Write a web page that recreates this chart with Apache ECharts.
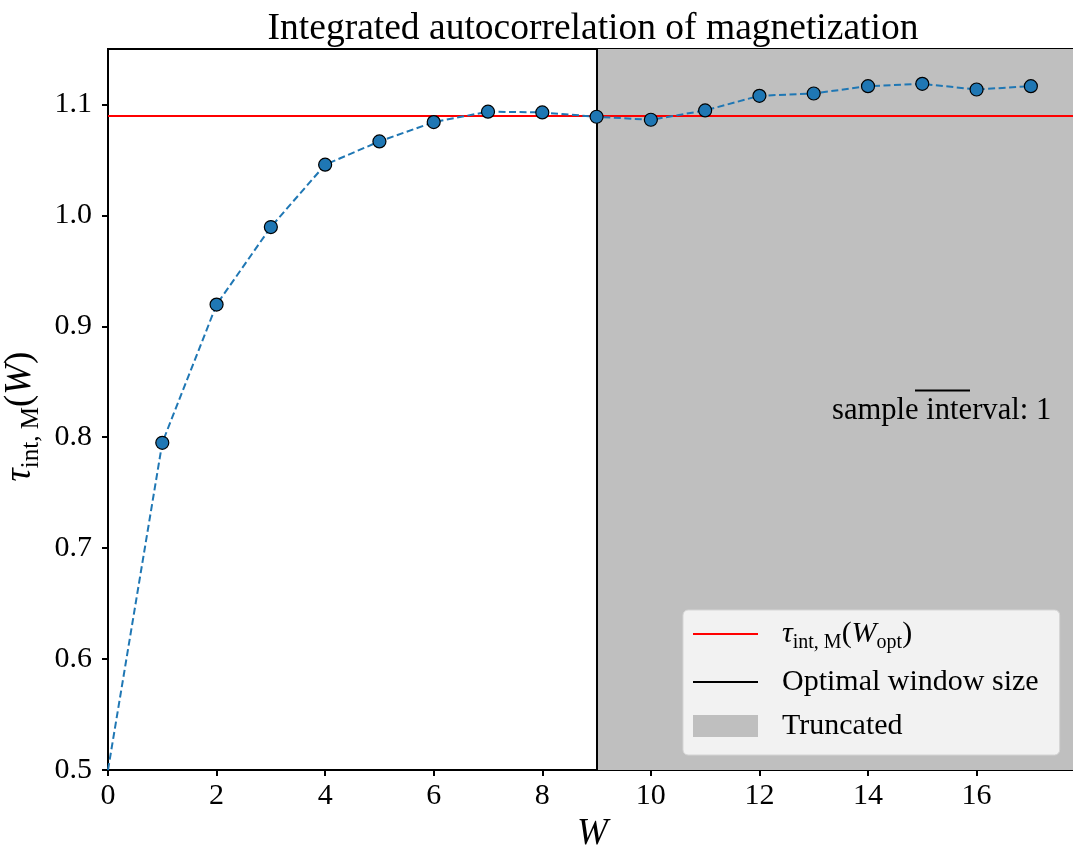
<!DOCTYPE html>
<html>
<head>
<meta charset="utf-8">
<script src="https://cdn.jsdelivr.net/npm/echarts@6/dist/echarts.min.js"></script>
<style>
html,body{margin:0;padding:0;background:#fff;}
#chart{width:1073px;height:848px;}
</style>
</head>
<body>
<div id="chart"></div>
<script>
// ---- data ----
const windowSizes = [0, 1, 2, 3, 4, 5, 6, 7, 8, 9, 10, 11, 12, 13, 14, 15, 16, 17];
const tauValues = [0.5, 0.795, 0.9196, 0.9895, 1.0457, 1.0667, 1.0841, 1.0935, 1.0928,
                   1.0889, 1.0862, 1.0946, 1.1078, 1.1099, 1.1165, 1.1186, 1.1135, 1.1165];
const tauOpt = 1.0889;
const wOpt = 9;
const xMin = 0, xMax = 17.85;
const yMin = 0.5, yMax = 1.15;
const xTicks = [0, 2, 4, 6, 8, 10, 12, 14, 16];
const yTicks = [0.5, 0.6, 0.7, 0.8, 0.9, 1.0, 1.1];
const titleText = 'Integrated autocorrelation of magnetization';
const tauName = 'tauOpt';
const windowName = 'Optimal window size';
const truncName = 'Truncated';
const noteText = 'sample interval: 1';

const FONT = 'Liberation Serif';
const LINE_ICON = 'path://M0,0 M0,10 L65,10 L65,12 L0,12 Z M65,22';
const chart = echarts.init(document.getElementById('chart'), null, {renderer: 'canvas'});

const richMain = {
  it: {fontFamily: FONT, fontStyle: 'italic', fontSize: 30, lineHeight: 30, verticalAlign: 'top', color: '#000'},
  n: {fontFamily: FONT, fontSize: 30, lineHeight: 30, verticalAlign: 'top', color: '#000'},
  sub: {fontFamily: FONT, fontSize: 20, lineHeight: 20, padding: [14, 0, 0, 0], verticalAlign: 'top', color: '#000'}
};
const richAxis = {
  it: {fontFamily: FONT, fontStyle: 'italic', fontSize: 37, lineHeight: 37, verticalAlign: 'top', color: '#000'},
  n: {fontFamily: FONT, fontSize: 37, lineHeight: 37, verticalAlign: 'top', color: '#000'},
  sub: {fontFamily: FONT, fontSize: 25, lineHeight: 25, padding: [17, 0, 0, 0], verticalAlign: 'top', color: '#000'}
};

const option = {
  animation: false,
  backgroundColor: '#fff',
  title: {
    text: titleText,
    left: 588,
    textAlign: 'center',
    top: 5,
    textStyle: {fontFamily: FONT, fontSize: 37.5, fontWeight: 'normal', color: '#000'}
  },
  grid: {left: 108, right: -4, top: 49, bottom: 78, show: true, borderColor: '#000', borderWidth: 2,
         backgroundColor: 'transparent', containLabel: false, outerBoundsMode: 'none'},
  legend: {
    orient: 'vertical',
    left: 683,
    top: 610,
    padding: [9, 21, 14, 10],
    itemWidth: 65,
    itemHeight: 22,
    itemGap: 14,
    backgroundColor: '#f2f2f2',
    borderColor: '#d5d5d5',
    borderWidth: 1,
    borderRadius: 5,
    data: [
      {name: tauName, icon: LINE_ICON, itemStyle: {color: '#ff0000', borderWidth: 0}},
      {name: windowName, icon: LINE_ICON, itemStyle: {color: '#000', borderWidth: 0}},
      {name: truncName, icon: 'rect', itemStyle: {color: '#bfbfbf', borderWidth: 0}}
    ],
    formatter: function (name) {
      if (name === tauName) return '{it|τ}{sub|int, M}{n|(}{it|W}{sub|opt}{n|)}';
      return '{n|' + name + '}';
    },
    textStyle: {fontFamily: FONT, fontSize: 30, color: '#000', padding: [0, 0, 0, 19], rich: richMain}
  },
  xAxis: {
    type: 'value',
    min: xMin,
    max: xMax,
    name: 'W',
    nameLocation: 'middle',
    nameGap: 45,
    nameTextStyle: {fontFamily: FONT, fontStyle: 'italic', fontSize: 37, color: '#000'},
    axisLine: {show: true, onZero: false, lineStyle: {color: '#000', width: 2}},
    axisTick: {show: true, inside: false, length: 6, lineStyle: {color: '#000', width: 2}, customValues: xTicks},
    axisLabel: {show: true, fontFamily: FONT, fontSize: 30, color: '#000', margin: 11, customValues: xTicks,
      formatter: v => String(v)},
    splitLine: {show: false}
  },
  yAxis: {
    type: 'value',
    min: yMin,
    max: yMax,
    name: '{it|τ}{sub|int, M}{n|(}{it|W}{n|)}',
    nameLocation: 'middle',
    nameGap: 60,
    nameRotate: 90,
    nameTextStyle: {rich: richAxis, padding: [0, 14, 0, 0]},
    axisLine: {show: true, onZero: false, lineStyle: {color: '#000', width: 2}},
    axisTick: {show: true, inside: false, length: 6, lineStyle: {color: '#000', width: 2}, customValues: yTicks},
    axisLabel: {show: true, fontFamily: FONT, fontSize: 30, color: '#000', margin: 16, customValues: yTicks,
      formatter: v => v.toFixed(1)},
    splitLine: {show: false}
  },
  series: [
    {
      name: truncName,
      type: 'line',
      data: [],
      symbol: 'none',
      color: '#bfbfbf',
      z: 1,
      silent: true,
      markArea: {
        silent: true,
        itemStyle: {color: '#bfbfbf'},
        data: [[{xAxis: wOpt}, {xAxis: xMax}]]
      }
    },
    {
      name: tauName,
      type: 'line',
      data: [],
      symbol: 'none',
      color: '#ff0000',
      lineStyle: {color: '#ff0000', width: 2},
      z: 2,
      markLine: {
        silent: true,
        symbol: 'none',
        label: {show: false},
        lineStyle: {color: '#ff0000', width: 2, type: 'solid'},
        data: [{yAxis: tauOpt}]
      }
    },
    {
      name: windowName,
      type: 'line',
      data: [],
      symbol: 'none',
      color: '#000',
      lineStyle: {color: '#000', width: 2},
      z: 2,
      markLine: {
        silent: true,
        symbol: 'none',
        label: {show: false},
        lineStyle: {color: '#000', width: 2, type: 'solid'},
        data: [{xAxis: wOpt}]
      }
    },
    {
      name: 'tau',
      type: 'line',
      z: 5,
      data: windowSizes.map((w, i) => [w, tauValues[i]]),
      symbol: 'circle',
      symbolSize: (v, p) => (p.dataIndex === 0 ? 0 : 13),
      lineStyle: {color: '#1f77b4', width: 2, type: [7, 3.5]},
      itemStyle: {color: '#1f77b4', borderColor: '#000', borderWidth: 1.2},
      clip: true
    }
  ],
  graphic: [
    {
      type: 'text',
      x: 832,
      y: 411,
      z: 10,
      style: {text: noteText, font: '30.6px "Liberation Serif"', fill: '#000', verticalAlign: 'middle', align: 'left'}
    },
    {
      type: 'rect',
      z: 10,
      shape: {x: 915, y: 389.5, width: 55, height: 2},
      style: {fill: '#000'}
    }
  ]
};
chart.setOption(option);
</script>
</body>
</html>
